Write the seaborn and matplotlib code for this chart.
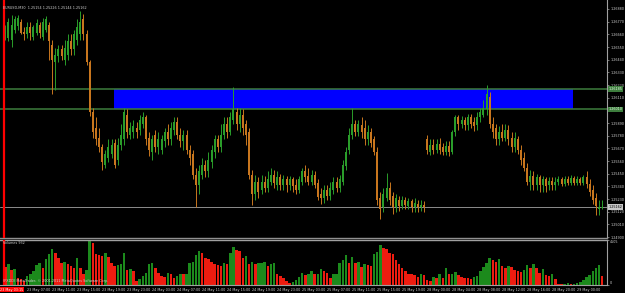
import numpy as np
import pandas as pd
import matplotlib
matplotlib.use("Agg")
import matplotlib.pyplot as plt
import matplotlib.transforms as mtransforms
import seaborn as sns

# ---------------- data (EURUSD M30, 23 May 03:30 .. 29 May 04:00) ----------------
open_ = [1.2666, 1.2663, 1.2661, 1.2670, 1.2673, 1.2677, 1.2668, 1.2666, 1.2672, 1.2664,
         1.2667, 1.2674, 1.2664, 1.2670, 1.2674, 1.2657, 1.2642, 1.2647, 1.2653, 1.2644,
         1.2648, 1.2660, 1.2653, 1.2661, 1.2666, 1.2679, 1.2666, 1.2642, 1.2599, 1.2585,
         1.2576, 1.2568, 1.2553, 1.2559, 1.2562, 1.2572, 1.2557, 1.2570, 1.2575, 1.2596,
         1.2579, 1.2581, 1.2585, 1.2583, 1.2588, 1.2594, 1.2576, 1.2564, 1.2579, 1.2568,
         1.2566, 1.2573, 1.2581, 1.2575, 1.2583, 1.2590, 1.2579, 1.2573, 1.2579, 1.2566,
         1.2562, 1.2544, 1.2535, 1.2544, 1.2553, 1.2547, 1.2555, 1.2564, 1.2575, 1.2568,
         1.2579, 1.2588, 1.2581, 1.2592, 1.2599, 1.2588, 1.2596, 1.2588, 1.2581, 1.2544,
         1.2527, 1.2538, 1.2531, 1.2538, 1.2533, 1.2538, 1.2544, 1.2535, 1.2542, 1.2535,
         1.2540, 1.2535, 1.2540, 1.2535, 1.2531, 1.2538, 1.2547, 1.2543, 1.2538, 1.2544,
         1.2537, 1.2527, 1.2524, 1.2531, 1.2526, 1.2531, 1.2538, 1.2533, 1.2538, 1.2552,
         1.2566, 1.2579, 1.2588, 1.2581, 1.2587, 1.2585, 1.2575, 1.2581, 1.2575, 1.2564,
         1.2524, 1.2516, 1.2524, 1.2533, 1.2526, 1.2516, 1.2522, 1.2517, 1.2522, 1.2517,
         1.2521, 1.2516, 1.2519, 1.2516, 1.2518, 1.2575, 1.2564, 1.2570, 1.2566, 1.2571,
         1.2568, 1.2564, 1.2569, 1.2564, 1.2581, 1.2594, 1.2588, 1.2592, 1.2587, 1.2594,
         1.2590, 1.2587, 1.2594, 1.2596, 1.2601, 1.2612, 1.2588, 1.2585, 1.2575, 1.2581,
         1.2576, 1.2583, 1.2576, 1.2568, 1.2575, 1.2566, 1.2559, 1.2550, 1.2538, 1.2543,
         1.2535, 1.2542, 1.2535, 1.2540, 1.2535, 1.2539, 1.2535, 1.2538, 1.2540, 1.2536,
         1.2540, 1.2537, 1.2541, 1.2537, 1.2540, 1.2537, 1.2542, 1.2536, 1.2531, 1.2524,
         1.2514, 1.25154]
high = [1.2674, 1.2680, 1.2683, 1.2682, 1.2683, 1.2679, 1.2672, 1.2677, 1.2677, 1.2674,
        1.2679, 1.2677, 1.2680, 1.2682, 1.2677, 1.2661, 1.2654, 1.2657, 1.2657, 1.2661,
        1.2666, 1.2666, 1.2670, 1.2679, 1.2686, 1.2684, 1.2670, 1.2644, 1.2602, 1.2594,
        1.2585, 1.2571, 1.2566, 1.2575, 1.2575, 1.2575, 1.2576, 1.2588, 1.2602, 1.2601,
        1.2590, 1.2592, 1.2590, 1.2596, 1.2599, 1.2596, 1.2581, 1.2579, 1.2583, 1.2581,
        1.2579, 1.2585, 1.2588, 1.2590, 1.2594, 1.2594, 1.2585, 1.2583, 1.2583, 1.2570,
        1.2566, 1.2550, 1.2553, 1.2559, 1.2557, 1.2564, 1.2570, 1.2579, 1.2579, 1.2588,
        1.2594, 1.2594, 1.2599, 1.2620, 1.2602, 1.2602, 1.2601, 1.2592, 1.2585, 1.2548,
        1.2544, 1.2542, 1.2544, 1.2543, 1.2547, 1.2550, 1.2548, 1.2547, 1.2545, 1.2544,
        1.2543, 1.2543, 1.2542, 1.2540, 1.2543, 1.2550, 1.2553, 1.2550, 1.2548, 1.2547,
        1.2540, 1.2533, 1.2535, 1.2535, 1.2538, 1.2542, 1.2542, 1.2544, 1.2557, 1.2568,
        1.2585, 1.2602, 1.2592, 1.2592, 1.2594, 1.2592, 1.2587, 1.2585, 1.2578, 1.2568,
        1.2529, 1.2533, 1.2546, 1.2538, 1.2529, 1.2527, 1.2526, 1.2526, 1.2525, 1.2524,
        1.2523, 1.2524, 1.2522, 1.2522, 1.2521, 1.2579, 1.2575, 1.2575, 1.2575, 1.2576,
        1.2572, 1.2573, 1.2573, 1.2583, 1.2596, 1.2596, 1.2595, 1.2594, 1.2597, 1.2597,
        1.2594, 1.2599, 1.2602, 1.2609, 1.2622, 1.2616, 1.2594, 1.2588, 1.2586, 1.2588,
        1.2588, 1.2587, 1.2581, 1.2581, 1.2578, 1.2570, 1.2564, 1.2554, 1.2548, 1.2547,
        1.2545, 1.2544, 1.2543, 1.2542, 1.2542, 1.2542, 1.2542, 1.2543, 1.2542, 1.2543,
        1.2543, 1.2544, 1.2543, 1.2543, 1.2542, 1.2544, 1.2547, 1.2540, 1.2535, 1.2528,
        1.2522, 1.25226]
low = [1.2661, 1.2660, 1.2655, 1.2667, 1.2670, 1.2666, 1.2661, 1.2663, 1.2661, 1.2661,
       1.2665, 1.2663, 1.2661, 1.2668, 1.2644, 1.2614, 1.2618, 1.2642, 1.2644, 1.2639,
       1.2644, 1.2648, 1.2648, 1.2657, 1.2661, 1.2661, 1.2639, 1.2595, 1.2576, 1.2570,
       1.2564, 1.2548, 1.2550, 1.2555, 1.2559, 1.2550, 1.2553, 1.2566, 1.2570, 1.2576,
       1.2575, 1.2576, 1.2576, 1.2579, 1.2585, 1.2570, 1.2560, 1.2557, 1.2564, 1.2562,
       1.2562, 1.2568, 1.2570, 1.2570, 1.2579, 1.2575, 1.2568, 1.2566, 1.2562, 1.2553,
       1.2540, 1.2516, 1.2527, 1.2540, 1.2542, 1.2542, 1.2550, 1.2559, 1.2564, 1.2564,
       1.2575, 1.2576, 1.2579, 1.2588, 1.2583, 1.2581, 1.2579, 1.2570, 1.2540, 1.2518,
       1.2522, 1.2524, 1.2527, 1.2529, 1.2529, 1.2535, 1.2533, 1.2531, 1.2531, 1.2531,
       1.2529, 1.2531, 1.2529, 1.2527, 1.2528, 1.2535, 1.2538, 1.2535, 1.2535, 1.2533,
       1.2522, 1.2519, 1.2520, 1.2522, 1.2522, 1.2527, 1.2529, 1.2529, 1.2535, 1.2548,
       1.2562, 1.2575, 1.2578, 1.2578, 1.2576, 1.2570, 1.2570, 1.2568, 1.2561, 1.2518,
       1.2506, 1.2512, 1.2521, 1.2518, 1.2510, 1.2512, 1.2513, 1.2514, 1.2514, 1.2514,
       1.2512, 1.2512, 1.2512, 1.2513, 1.2512, 1.2562, 1.2561, 1.2562, 1.2563, 1.2562,
       1.2561, 1.2561, 1.2560, 1.2562, 1.2578, 1.2583, 1.2585, 1.2583, 1.2583, 1.2585,
       1.2582, 1.2583, 1.2590, 1.2594, 1.2596, 1.2585, 1.2576, 1.2570, 1.2570, 1.2573,
       1.2573, 1.2570, 1.2564, 1.2564, 1.2562, 1.2553, 1.2547, 1.2535, 1.2531, 1.2531,
       1.2531, 1.2529, 1.2529, 1.2529, 1.2531, 1.2531, 1.2531, 1.2535, 1.2534, 1.2534,
       1.2535, 1.2535, 1.2535, 1.2535, 1.2535, 1.2535, 1.2533, 1.2526, 1.2519, 1.2509,
       1.2509, 1.25144]
close = [1.2670, 1.2677, 1.2674, 1.2679, 1.2680, 1.2667, 1.2666, 1.2672, 1.2667, 1.2672,
         1.2676, 1.2667, 1.2677, 1.2679, 1.2660, 1.2644, 1.2648, 1.2653, 1.2647, 1.2654,
         1.2660, 1.2653, 1.2666, 1.2672, 1.2677, 1.2666, 1.2642, 1.2599, 1.2581, 1.2575,
         1.2568, 1.2555, 1.2562, 1.2568, 1.2570, 1.2553, 1.2570, 1.2579, 1.2599, 1.2581,
         1.2585, 1.2586, 1.2581, 1.2592, 1.2594, 1.2575, 1.2566, 1.2575, 1.2568, 1.2575,
         1.2575, 1.2581, 1.2575, 1.2585, 1.2590, 1.2579, 1.2573, 1.2579, 1.2566, 1.2559,
         1.2544, 1.2535, 1.2547, 1.2553, 1.2547, 1.2557, 1.2566, 1.2575, 1.2568, 1.2579,
         1.2588, 1.2581, 1.2594, 1.2601, 1.2588, 1.2596, 1.2585, 1.2579, 1.2544, 1.2527,
         1.2538, 1.2529, 1.2538, 1.2533, 1.2540, 1.2544, 1.2537, 1.2542, 1.2535, 1.2540,
         1.2535, 1.2540, 1.2534, 1.2531, 1.2540, 1.2547, 1.2542, 1.2538, 1.2544, 1.2535,
         1.2525, 1.2524, 1.2531, 1.2526, 1.2533, 1.2538, 1.2533, 1.2540, 1.2553, 1.2564,
         1.2579, 1.2588, 1.2581, 1.2588, 1.2581, 1.2575, 1.2581, 1.2572, 1.2564, 1.2522,
         1.2514, 1.2527, 1.2533, 1.2522, 1.2516, 1.2524, 1.2517, 1.2522, 1.2518, 1.2521,
         1.2516, 1.2520, 1.2516, 1.2518, 1.2516, 1.2566, 1.2570, 1.2566, 1.2571, 1.2566,
         1.2564, 1.2569, 1.2564, 1.2581, 1.2594, 1.2588, 1.2592, 1.2587, 1.2594, 1.2588,
         1.2586, 1.2594, 1.2599, 1.2602, 1.2614, 1.2588, 1.2581, 1.2575, 1.2581, 1.2576,
         1.2583, 1.2575, 1.2568, 1.2576, 1.2566, 1.2557, 1.2550, 1.2538, 1.2543, 1.2535,
         1.2542, 1.2535, 1.2540, 1.2534, 1.2539, 1.2535, 1.2538, 1.2540, 1.2536, 1.2540,
         1.2537, 1.2541, 1.2537, 1.2540, 1.2537, 1.2542, 1.2536, 1.2529, 1.2522, 1.2517,
         1.2516, 1.25162]
volume = [1840, 2150, 1530, 1560, 720, 650, 410, 920, 1120, 1430,
          2040, 2250, 1740, 2560, 3070, 3580, 3170, 2660, 2250, 2350,
          2150, 1940, 1740, 2660, 1740, 1120, 1530, 4505, 4190, 3070,
          2970, 2860, 3170, 2760, 2250, 1940, 2050, 2150, 3170, 1530,
          1640, 1430, 410, 610, 920, 1230, 2150, 2250, 1740, 1230,
          920, 820, 1230, 1120, 720, 920, 1120, 1100, 1150, 2250,
          2350, 2970, 3380, 3170, 2660, 2560, 2350, 2150, 2050, 1940,
          2250, 2150, 3170, 3790, 3480, 3380, 2660, 2860, 2150, 2350,
          2150, 2180, 2250, 2280, 1940, 2150, 2170, 1120, 920, 720,
          410, 200, 310, 510, 820, 1230, 1020, 1120, 1430, 1120,
          1150, 1640, 1430, 1230, 720, 1120, 1140, 2250, 2460, 2970,
          2250, 2760, 2250, 2350, 1840, 2150, 2050, 1940, 3070, 3280,
          3990, 3690, 3580, 3170, 3070, 2460, 2150, 1740, 1430, 1120,
          1100, 1020, 820, 1120, 1020, 510, 410, 820, 720, 1120,
          720, 1740, 1120, 1150, 1330, 1020, 820, 720, 700, 610,
          820, 920, 1430, 1840, 2250, 2660, 2460, 2350, 2560, 1940,
          1740, 1940, 1840, 1530, 1430, 1330, 1530, 2050, 1740, 2150,
          1740, 1230, 1640, 1020, 920, 1120, 610, 150, 120, 140,
          160, 130, 150, 170, 310, 510, 820, 1020, 1430, 1740,
          2050, 932]

tick_bars = [7, 15, 23, 31, 39, 47, 55, 63, 71, 79, 87, 95, 103, 111, 119, 127,
             135, 143, 151, 159, 167, 175, 183]
tick_labels = ["23 May 07:00", "23 May 11:00", "23 May 15:00", "23 May 19:00",
               "23 May 23:00", "24 May 03:00", "24 May 07:00", "24 May 11:00",
               "24 May 15:00", "24 May 19:00", "24 May 23:00", "25 May 03:00",
               "25 May 07:00", "25 May 11:00", "25 May 15:00", "25 May 19:00",
               "28 May 00:00", "28 May 04:00", "28 May 08:00", "28 May 12:00",
               "28 May 16:00", "28 May 20:00", "29 May 00:00"]
price_ticks = [1.24900, 1.25010, 1.25120, 1.25230, 1.25340, 1.25450, 1.25560,
               1.25670, 1.25780, 1.25890, 1.26000, 1.26110, 1.26220, 1.26330,
               1.26440, 1.26550, 1.26660, 1.26770, 1.26880]
level_top = 1.26185
level_bottom = 1.26010
zone_start_bar = 34.8
zone_end_bar = 181.7
vline_bar = -0.4
bid = 1.25162
volume_max = 4505
title = "EURUSD,M30  1.25154 1.25226 1.25144 1.25162"

# ---------------- style ----------------
sns.set_style("dark", {"axes.facecolor": "black", "figure.facecolor": "black",
                       "axes.edgecolor": "#a0a0a0", "grid.color": "black"})
plt.rcParams["font.family"] = ["DejaVu Sans"]

GREEN = "#2a9d2a"
ORANGE = "#c8761e"
VGREEN = "#1c8a1c"
VRED = "#ee1c10"
TXT = "#d0d0d0"
FS = 2.45

W, H = 625, 293
def rect(x0, y0, x1, y1):
    return [x0 / W, 1 - y1 / H, (x1 - x0) / W, (y1 - y0) / H]

fig = plt.figure(figsize=(W / 100, H / 100), dpi=100)
fig.patch.set_facecolor("black")
ax = fig.add_axes(rect(0, 0, 607, 238))
axv = fig.add_axes(rect(0, 240, 607, 285))

n = len(close)
df = pd.DataFrame({"bar": np.arange(n), "open": open_, "high": high,
                   "low": low, "close": close, "volume": volume})
df["up"] = df["close"] >= df["open"]
cols = np.where(df["up"], GREEN, ORANGE)

xlim = (-1.7, 192.55)

# zone rectangle and lines (background objects)
ax.fill_between([zone_start_bar, zone_end_bar], level_bottom, level_top,
                color="#0000ff", lw=0, zorder=1)
for lv in (level_top, level_bottom):
    ax.axhline(lv, color="#3d7d3d", lw=1.1, zorder=1.5)
ax.axhline(bid, color="#8c8c8c", lw=0.7, zorder=1.5)

# candles
ax.vlines(df["bar"], df["low"], df["high"], colors=cols, lw=0.7, zorder=3)
body = (df["close"] - df["open"]).abs().clip(lower=0.00003)
ax.bar(df["bar"], body, bottom=np.minimum(df["open"], df["close"]),
       width=0.62, color=cols, lw=0, zorder=4)

ax.axvline(vline_bar, color="#ff0000", lw=1.6, zorder=5)
ax.set_xlim(*xlim)
ax.set_ylim(1.24892, 1.26958)
ax.grid(False)
for s in ("left", "top"):
    ax.spines[s].set_visible(False)
ax.spines["right"].set_color("#a0a0a0")
ax.spines["bottom"].set_color("#909090")
ax.spines["right"].set_linewidth(0.8)
ax.spines["bottom"].set_linewidth(1.0)
ax.set_xticks([])
ax.yaxis.tick_right()
ax.set_yticks(price_ticks)
# the tick label hidden under the level box is left blank, as in the terminal
ax.set_yticklabels(["" if abs(p - level_bottom) < 0.0003 else f"{p:.5f}"
                    for p in price_ticks])
ax.tick_params(axis="y", colors="#a0a0a0", labelcolor=TXT, length=1.5, width=0.5,
               pad=0.8, labelsize=FS)

trans = mtransforms.blended_transform_factory(ax.transAxes, ax.transData)
for lv in (level_top, level_bottom):
    ax.text(1.0025, lv, f"{lv:.5f}", transform=trans, fontsize=FS, color="#e8ffe8",
            va="center", ha="left", clip_on=False, zorder=10,
            bbox=dict(boxstyle="square,pad=0.2", fc="#3d7d3d", ec="none"))
ax.text(1.0025, bid, f"{bid:.5f}", transform=trans, fontsize=FS, color="black",
        va="center", ha="left", clip_on=False, zorder=10,
        bbox=dict(boxstyle="square,pad=0.2", fc="#c8c8c8", ec="none"))

# volumes
prev = df["volume"].shift(1).fillna(df["volume"].iloc[0] + 1)
df["dir"] = np.where(df["volume"] > prev, "up", "down")
sns.barplot(data=df, x="bar", y="volume", hue="dir", native_scale=True,
            palette={"up": VGREEN, "down": VRED}, dodge=False, width=0.8,
            saturation=1, errorbar=None, legend=False, linewidth=0, ax=axv)
axv.axvline(vline_bar, color="#ff0000", lw=1.6, zorder=5)
axv.set_xlim(*xlim)
axv.set_ylim(0, volume_max)
axv.grid(False)
axv.set_xlabel("")
axv.set_ylabel("")
axv.spines["left"].set_visible(False)
for s in ("top", "right", "bottom"):
    axv.spines[s].set_color("#a0a0a0")
    axv.spines[s].set_linewidth(0.8)
axv.spines["top"].set_linewidth(1.0)
axv.yaxis.tick_right()
axv.set_yticks([0, volume_max])
axv.set_yticklabels(["0", str(volume_max)])
for lab, va in zip(axv.get_yticklabels(), ("bottom", "top")):
    lab.set_va(va)
axv.tick_params(axis="y", colors="#a0a0a0", labelcolor=TXT, length=1.5, width=0.5,
                pad=0.8, labelsize=FS)
axv.set_xticks(tick_bars)
axv.set_xticklabels(tick_labels, ha="left")
axv.tick_params(axis="x", colors="#a0a0a0", labelcolor=TXT, length=1.5, width=0.5,
                pad=0.8, labelsize=FS)

# texts
fig.text(3 / W, 1 - 8 / H, title, fontsize=FS, color=TXT, va="center", ha="left")
fig.text(3 / W, 1 - 243.5 / H, "Volumes 932", fontsize=FS, color=TXT, va="center",
         ha="left")
fig.text(3 / W, 1 - 281 / H,
         "(FXDD) MetaTrader, \u00a9 2001-2011 MetaQuotes Software Corp.",
         fontsize=FS, color=TXT, va="center", ha="left")
fig.text(0.5 / W, 1 - 289.5 / H, "23 May 03:15", fontsize=FS, color="white",
         va="center", ha="left",
         bbox=dict(boxstyle="square,pad=0.2", fc="#ff0000", ec="none"))

fig.savefig("out.png", dpi=100, facecolor="black")
